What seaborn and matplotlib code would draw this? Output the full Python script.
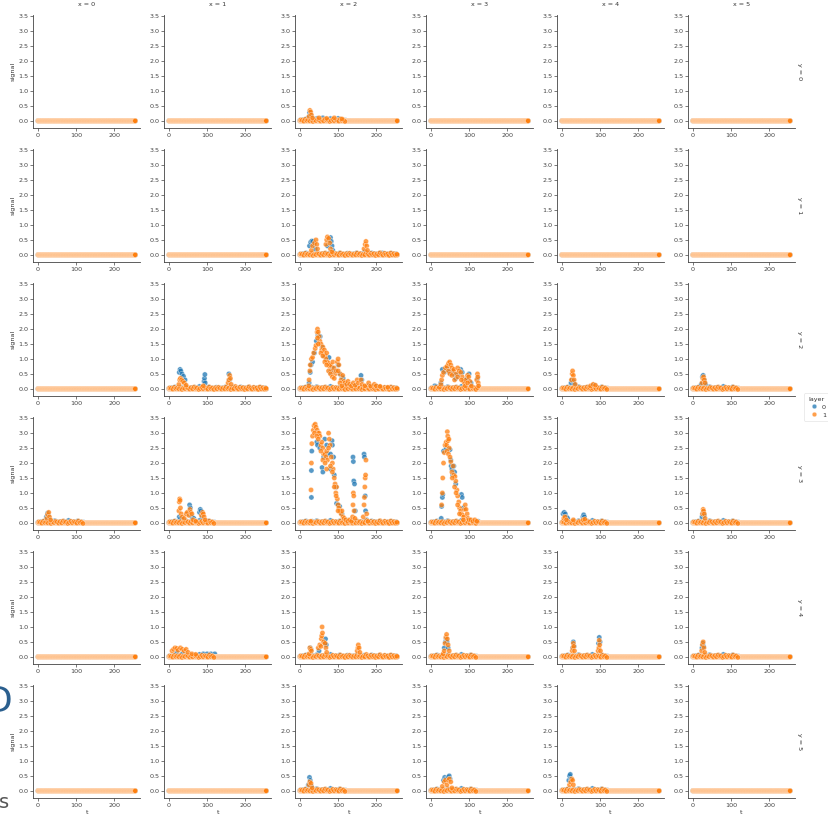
import numpy as np
import pandas as pd
import matplotlib
matplotlib.use("Agg")
import matplotlib.pyplot as plt
import seaborn as sns

# ---------------- data ----------------
T_ALL = list(range(256))            # time axis of every facet
X_VALUES = [0, 1, 2, 3, 4, 5]       # column facets
Y_VALUES = [0, 1, 2, 3, 4, 5]       # row facets
LAYERS = ["0", "1"]

# small baseline wiggle seen in the active facets
NOISE = [0.02, -0.01, 0.04, 0.00, 0.06, -0.02, 0.03, 0.01, 0.05, -0.01,
         0.02, 0.07, 0.00, 0.03, -0.02, 0.04, 0.01, 0.05, -0.01, 0.03,
         0.08, 0.00, 0.02, -0.02, 0.04, 0.01, 0.06, 0.00, 0.03, -0.01,
         0.02, 0.05, 0.00, 0.04, -0.02, 0.03, 0.01, 0.06, -0.01, 0.02,
         0.04, 0.00, 0.05, 0.01, -0.02, 0.03, 0.02, 0.06, 0.00, 0.04,
         -0.01, 0.03, 0.05, 0.01, 0.02, -0.02, 0.04, 0.00, 0.03, 0.01,
         0.05, -0.01, 0.02, 0.03]

# peaks per facet (x, y), per layer: (t, signal)
X2Y0_L0 = [(22, 0.1), (25, 0.28), (27, 0.2), (30, 0.12), (45, 0.08), (60, 0.1), (80, 0.06), (100, 0.08)]
X2Y0_L1 = [(24, 0.15), (26, 0.35), (28, 0.3), (30, 0.2), (33, 0.1), (50, 0.1), (70, 0.08), (90, 0.1), (110, 0.06)]

X2Y1_L0 = [(25, 0.3), (28, 0.42), (31, 0.46), (34, 0.45), (37, 0.35), (40, 0.2), (72, 0.3), (76, 0.5),
           (80, 0.58), (82, 0.45), (84, 0.3), (86, 0.15), (170, 0.1), (216, 0.06)]
X2Y1_L1 = [(30, 0.15), (33, 0.3), (38, 0.4), (42, 0.5), (44, 0.35), (46, 0.2), (68, 0.35), (70, 0.5),
           (72, 0.6), (75, 0.55), (78, 0.4), (80, 0.2), (84, 0.1), (168, 0.2), (171, 0.35), (173, 0.45),
           (175, 0.3), (177, 0.15)]

X1Y2_L0 = [(27, 0.55), (29, 0.65), (31, 0.6), (34, 0.5), (38, 0.42), (42, 0.3), (92, 0.25), (93, 0.35),
           (94, 0.48), (95, 0.2), (157, 0.5), (159, 0.3)]
X1Y2_L1 = [(26, 0.15), (28, 0.3), (30, 0.35), (33, 0.3), (36, 0.25), (40, 0.2), (45, 0.12), (90, 0.1),
           (155, 0.2), (157, 0.3), (159, 0.45), (161, 0.35), (163, 0.15)]

X2Y2_L0 = [(24, 0.2), (27, 0.55), (29, 0.8), (33, 0.9), (38, 1.2), (43, 1.6), (47, 1.8), (53, 1.75),
           (58, 1.4), (63, 1.1), (70, 1.0), (76, 1.05), (80, 0.55), (85, 0.7), (92, 0.6), (100, 0.8),
           (104, 0.5), (110, 0.4), (113, 0.35), (120, 0.15), (130, 0.1), (145, 0.1), (160, 0.45),
           (162, 0.3), (180, 0.1), (200, 0.08)]
X2Y2_L1 = [(23, 0.1), (24, 0.3), (26, 0.6), (27, 0.8), (30, 1.0), (33, 1.05), (36, 1.2), (40, 1.35),
           (42, 1.45), (45, 1.9), (46, 2.0), (48, 1.9), (50, 1.75), (52, 1.6), (55, 1.5), (57, 1.3),
           (60, 1.4), (62, 1.2), (64, 1.3), (66, 1.1), (68, 1.0), (70, 1.2), (72, 0.9), (75, 0.85),
           (78, 0.75), (80, 0.8), (83, 0.6), (86, 0.9), (89, 0.7), (92, 0.5), (95, 0.6), (98, 0.9),
           (100, 1.0), (102, 0.8), (105, 0.5), (108, 0.3), (112, 0.45), (115, 0.25), (118, 0.2),
           (122, 0.15), (126, 0.25), (130, 0.15), (135, 0.1), (140, 0.2), (145, 0.12), (150, 0.3),
           (153, 0.2), (160, 0.3), (163, 0.15), (170, 0.1), (180, 0.2), (185, 0.1), (195, 0.15),
           (200, 0.1), (210, 0.08), (230, 0.05), (46, 1.7), (48, 1.5), (55, 1.2), (60, 1.1), (65, 0.9),
           (70, 0.8), (75, 0.6), (80, 0.5), (85, 0.4), (90, 0.35), (100, 0.6), (105, 0.2), (110, 0.1)]

X3Y2_L0 = [(10, 0.1), (13, 0.08), (26, 0.2), (30, 0.65), (35, 0.55), (42, 0.7), (48, 0.55), (55, 0.6),
           (60, 0.5), (65, 0.35), (72, 0.5), (78, 0.65), (82, 0.55), (88, 0.3), (95, 0.35), (100, 0.5),
           (105, 0.2), (110, 0.05), (122, 0.35)]
X3Y2_L1 = [(22, 0.05), (26, 0.15), (28, 0.3), (30, 0.45), (33, 0.55), (38, 0.7), (42, 0.75), (46, 0.85),
           (49, 0.9), (52, 0.8), (55, 0.7), (58, 0.6), (60, 0.65), (62, 0.3), (66, 0.5), (70, 0.7),
           (74, 0.6), (78, 0.55), (82, 0.4), (86, 0.25), (88, 0.2), (92, 0.3), (96, 0.45), (99, 0.4),
           (102, 0.25), (106, 0.1), (120, 0.3), (122, 0.5), (123, 0.4), (124, 0.2), (125, 0.1),
           (46, 0.6), (50, 0.5), (55, 0.45), (70, 0.4), (80, 0.3), (90, 0.1), (96, 0.2)]

X4Y2_L0 = [(24, 0.2), (27, 0.3), (30, 0.25), (33, 0.15), (80, 0.1), (85, 0.12)]
X4Y2_L1 = [(25, 0.3), (27, 0.5), (28, 0.6), (30, 0.45), (32, 0.3), (35, 0.15), (75, 0.1), (82, 0.15), (88, 0.12)]

X5Y2_L0 = [(22, 0.15), (25, 0.4), (27, 0.45), (30, 0.3), (33, 0.15)]
X5Y2_L1 = [(24, 0.2), (26, 0.35), (28, 0.4), (30, 0.3), (32, 0.2)]

X0Y3_L0 = [(22, 0.2), (25, 0.32), (27, 0.25), (30, 0.12)]
X0Y3_L1 = [(23, 0.15), (25, 0.28), (28, 0.35), (30, 0.2), (33, 0.1)]

X1Y3_L0 = [(27, 0.2), (30, 0.15), (35, 0.12), (50, 0.3), (54, 0.6), (56, 0.5), (60, 0.2), (65, 0.15),
           (80, 0.35), (82, 0.45), (84, 0.4), (87, 0.2)]
X1Y3_L1 = [(26, 0.4), (27, 0.7), (28, 0.8), (29, 0.75), (30, 0.5), (32, 0.3), (35, 0.2), (40, 0.15),
           (45, 0.3), (48, 0.35), (52, 0.25), (55, 0.45), (57, 0.35), (60, 0.3), (63, 0.1), (70, 0.05),
           (85, 0.25), (88, 0.35), (90, 0.3), (92, 0.2), (95, 0.1)]

X2Y3_L0 = [(30, 0.85), (30, 1.75), (31, 2.4), (44, 2.7), (46, 2.6), (52, 2.5), (58, 1.85), (60, 1.7),
           (62, 2.2), (65, 2.8), (70, 2.6), (72, 2.3), (80, 2.3), (80, 1.8), (84, 2.75), (85, 2.6),
           (88, 2.2), (90, 1.6), (94, 1.2), (96, 0.65), (100, 0.6), (104, 0.55), (110, 0.3), (120, 0.1),
           (139, 2.2), (140, 2.05), (141, 1.4), (143, 1.3), (145, 0.4), (168, 2.3), (169, 2.2),
           (171, 0.9), (172, 0.4), (175, 0.1)]
X2Y3_L1 = [(28, 0.05), (29, 1.1), (30, 2.0), (31, 2.65), (33, 2.9), (35, 3.1), (37, 3.25), (40, 3.3),
           (42, 3.2), (45, 3.1), (47, 3.0), (50, 3.0), (52, 2.9), (55, 2.6), (57, 2.7), (60, 2.5),
           (62, 2.3), (65, 2.3), (68, 2.2), (70, 2.4), (72, 2.1), (75, 3.0), (77, 2.8), (79, 2.6),
           (82, 2.2), (85, 2.0), (87, 1.8), (90, 1.5), (92, 1.3), (94, 1.0), (96, 1.2), (98, 0.8),
           (100, 0.6), (102, 0.5), (105, 0.4), (108, 0.3), (110, 0.4), (113, 0.2), (116, 0.15),
           (120, 0.1), (125, 0.05), (130, 0.1), (135, 0.05), (138, 0.2), (139, 0.6), (140, 1.0),
           (141, 0.9), (142, 0.4), (144, 0.15), (166, 0.2), (168, 0.6), (169, 0.85), (170, 1.2),
           (171, 1.5), (172, 1.6), (173, 2.1), (175, 0.3), (178, 0.05), (38, 3.0), (44, 2.9),
           (48, 2.8), (55, 2.4), (60, 2.1), (66, 2.0), (70, 1.8), (75, 2.5), (80, 1.9), (85, 1.7),
           (90, 1.2), (95, 0.9), (100, 0.4)]

X3Y3_L0 = [(27, 0.15), (28, 0.55), (30, 0.85), (31, 0.95), (33, 2.4), (40, 2.5), (50, 2.45), (52, 2.1),
           (53, 1.9), (55, 1.8), (57, 1.6), (60, 1.9), (62, 1.7), (65, 1.3), (80, 0.95), (82, 0.85),
           (85, 0.5), (100, 0.1)]
X3Y3_L1 = [(28, 0.6), (30, 1.0), (31, 1.5), (33, 2.0), (35, 2.35), (37, 2.6), (40, 2.7), (41, 2.6),
           (43, 3.05), (44, 2.9), (45, 2.75), (47, 2.8), (48, 2.5), (52, 2.05), (55, 1.7), (58, 1.9),
           (60, 1.6), (63, 1.55), (65, 1.4), (68, 1.1), (70, 0.9), (73, 0.7), (75, 0.5), (78, 0.4),
           (80, 0.3), (83, 0.25), (86, 0.2), (88, 0.45), (90, 0.6), (92, 0.45), (95, 0.3), (97, 0.15),
           (100, 0.1), (105, 0.1), (110, 0.05), (115, 0.1), (120, 0.05), (42, 2.4), (46, 2.3),
           (50, 2.2), (56, 1.5), (62, 1.2), (66, 1.0), (70, 0.6), (75, 0.3), (85, 0.1)]

X4Y3_L0 = [(3, 0.3), (6, 0.35), (9, 0.3), (12, 0.2), (15, 0.15), (55, 0.2), (57, 0.27), (59, 0.2)]
X4Y3_L1 = [(5, 0.15), (8, 0.2), (12, 0.1), (30, 0.1), (56, 0.1), (60, 0.12)]

X5Y3_L0 = [(24, 0.2), (27, 0.35), (30, 0.25)]
X5Y3_L1 = [(25, 0.3), (27, 0.45), (28, 0.4), (30, 0.3), (32, 0.15)]

X1Y4_L0 = [(20, 0.15), (35, 0.1), (90, 0.1), (100, 0.1), (110, 0.1), (120, 0.1)]
X1Y4_L1 = [(8, 0.2), (12, 0.25), (16, 0.3), (20, 0.28), (24, 0.22), (30, 0.3), (35, 0.25), (40, 0.2),
           (45, 0.25), (50, 0.15), (60, 0.1), (70, 0.08)]

X2Y4_L0 = [(27, 0.3), (29, 0.25), (50, 0.2), (60, -0.02), (65, 0.45), (67, 0.6), (69, 0.4)]
X2Y4_L1 = [(24, 0.1), (26, 0.3), (28, 0.25), (30, 0.2), (48, 0.3), (52, 0.4), (55, 0.35), (56, 0.6),
           (57, 0.7), (58, 1.0), (59, 0.8), (62, 0.5), (66, 0.45), (68, 0.3), (70, 0.15), (150, 0.2),
           (152, 0.3), (153, 0.4), (155, 0.3), (157, 0.15)]

X3Y4_L0 = [(35, 0.3), (38, 0.5), (40, 0.6), (42, 0.5), (45, 0.3)]
X3Y4_L1 = [(32, 0.1), (35, 0.2), (37, 0.45), (39, 0.65), (41, 0.75), (43, 0.6), (45, 0.4), (48, 0.2)]

X4Y4_L0 = [(28, 0.3), (30, 0.5), (32, 0.35), (96, 0.45), (98, 0.65), (100, 0.5)]
X4Y4_L1 = [(27, 0.2), (29, 0.3), (30, 0.45), (31, 0.35), (33, 0.2), (95, 0.2), (97, 0.3), (98, 0.55),
           (99, 0.4), (101, 0.2)]

X5Y4_L0 = [(24, 0.3), (26, 0.45), (28, 0.35)]
X5Y4_L1 = [(23, 0.2), (25, 0.4), (27, 0.5), (29, 0.3), (31, 0.15)]

X2Y5_L0 = [(22, 0.2), (25, 0.45), (27, 0.35), (30, 0.15)]
X2Y5_L1 = [(24, 0.2), (26, 0.3), (29, 0.25), (32, 0.1)]

X3Y5_L0 = [(33, 0.35), (36, 0.45), (40, 0.4), (45, 0.45), (48, 0.5), (50, 0.4)]
X3Y5_L1 = [(30, 0.15), (35, 0.3), (38, 0.35), (42, 0.2), (46, 0.35), (48, 0.4), (52, 0.3), (55, 0.1)]

X4Y5_L0 = [(18, 0.35), (20, 0.5), (22, 0.55), (24, 0.4)]
X4Y5_L1 = [(20, 0.2), (23, 0.3), (26, 0.4), (28, 0.35), (30, 0.2)]

# facet -> (layer0 peaks, layer1 peaks, t where the baseline wiggle ends)
ACTIVE = {
    (2, 0): (X2Y0_L0, X2Y0_L1, 120), (2, 1): (X2Y1_L0, X2Y1_L1, 255),
    (1, 2): (X1Y2_L0, X1Y2_L1, 255), (2, 2): (X2Y2_L0, X2Y2_L1, 255),
    (3, 2): (X3Y2_L0, X3Y2_L1, 124), (4, 2): (X4Y2_L0, X4Y2_L1, 120),
    (5, 2): (X5Y2_L0, X5Y2_L1, 120), (0, 3): (X0Y3_L0, X0Y3_L1, 120),
    (1, 3): (X1Y3_L0, X1Y3_L1, 120), (2, 3): (X2Y3_L0, X2Y3_L1, 255),
    (3, 3): (X3Y3_L0, X3Y3_L1, 124), (4, 3): (X4Y3_L0, X4Y3_L1, 120),
    (5, 3): (X5Y3_L0, X5Y3_L1, 120), (1, 4): (X1Y4_L0, X1Y4_L1, 120),
    (2, 4): (X2Y4_L0, X2Y4_L1, 255), (3, 4): (X3Y4_L0, X3Y4_L1, 120),
    (4, 4): (X4Y4_L0, X4Y4_L1, 120), (5, 4): (X5Y4_L0, X5Y4_L1, 120),
    (2, 5): (X2Y5_L0, X2Y5_L1, 120), (3, 5): (X3Y5_L0, X3Y5_L1, 120),
    (4, 5): (X4Y5_L0, X4Y5_L1, 120),
}

# ---------------- build long table ----------------
rows = []
for li, layer in enumerate(LAYERS):
    for yv in Y_VALUES:
        for xv in X_VALUES:
            for t in T_ALL:
                rows.append((t, 0.0, layer, xv, yv))
            if (xv, yv) in ACTIVE:
                l0, l1, nend = ACTIVE[(xv, yv)]
                noise = NOISE if li == 0 else NOISE[::-1]
                for k, t in enumerate(range(2 * li, nend + 1, 4)):
                    rows.append((t, noise[k % len(noise)], layer, xv, yv))
                for t, s in (l0 if li == 0 else l1):
                    rows.append((t, s, layer, xv, yv))
df = pd.DataFrame(rows, columns=["t", "signal", "layer", "x", "y"])

# ---------------- plot ----------------
FS = 4.6
plt.rcParams.update({
    "font.size": FS, "axes.labelsize": FS, "axes.titlesize": FS,
    "xtick.labelsize": FS, "ytick.labelsize": FS,
    "legend.fontsize": FS, "legend.title_fontsize": FS,
    "axes.linewidth": 0.6, "xtick.major.width": 0.5, "ytick.major.width": 0.5,
    "xtick.major.size": 2, "ytick.major.size": 2,
    "xtick.major.pad": 1.5, "ytick.major.pad": 1.5, "axes.labelpad": 1.5,
    "text.color": "#333333", "axes.labelcolor": "#333333",
    "xtick.color": "#444444", "ytick.color": "#444444", "axes.edgecolor": "#444444",
})

g = sns.relplot(
    data=df, x="t", y="signal", hue="layer", hue_order=LAYERS,
    palette=["#1f77b4", "#ff7f0e"], col="x", row="y",
    col_order=X_VALUES, row_order=Y_VALUES, kind="scatter",
    s=14, linewidth=0.3, edgecolor="white", alpha=0.75,
    height=1.36, aspect=0.95, facet_kws=dict(margin_titles=True),
)
g.set_titles(col_template="x = {col_name}", row_template="y = {row_name}", size=FS)

fig = g.figure
fig.set_size_inches(8.29, 8.19)
fig.subplots_adjust(left=0.040, right=0.959, top=0.982, bottom=0.026,
                    wspace=0.224, hspace=0.186)
for ax in g.axes.flat:
    ax.tick_params(labelleft=True, labelbottom=True)
    ax.set_xticks([0, 100, 200])
    ax.set_yticks([0.0, 0.5, 1.0, 1.5, 2.0, 2.5, 3.0, 3.5])
g.axes[0, 0].set_ylim(-0.23, 3.55)

sns.move_legend(g, "center left", bbox_to_anchor=(0.966, 0.503), frameon=True,
                title="layer", handletextpad=0.3, borderpad=0.5, markerscale=0.9,
                labelspacing=0.4)
leg = g.legend
leg.get_frame().set_edgecolor("#dddddd")
leg.get_frame().set_linewidth(0.5)

# page fragments at the left edge of the screenshot
fig.text(12 / 829, 1 - 712 / 819, "D", ha="right", va="baseline",
         fontsize=26, color="#2b5f8e")
fig.text(9 / 829, 1 - 808 / 819, "s", ha="right", va="baseline",
         fontsize=14, color="#555555")

fig.savefig("out.png", dpi=100)
